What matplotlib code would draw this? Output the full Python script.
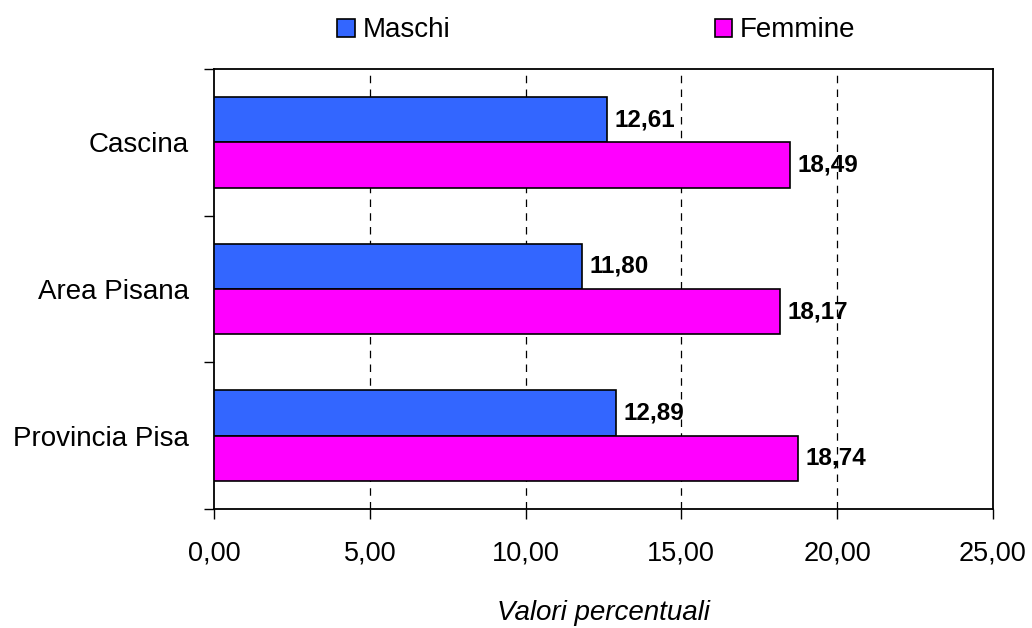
import numpy as np
import matplotlib.pyplot as plt
from matplotlib.ticker import FixedLocator

plt.rcParams['font.family'] = ['Liberation Sans', 'DejaVu Sans']

categories = ["Cascina", "Area Pisana", "Provincia Pisa"]
maschi = [12.61, 11.80, 12.89]
femmine = [18.49, 18.17, 18.74]
xticks = [0, 5, 10, 15, 20, 25]

BLUE = "#3366FF"
MAGENTA = "#FF00FF"
H = 0.31

def fmt(v):
    return f"{v:.2f}".replace(".", ",")

fig = plt.figure(figsize=(10.32, 6.28), dpi=100)
ax = fig.add_axes([0.2074, 0.1895, 0.7546, 0.7005])

ypos = np.arange(len(categories))[::-1]   # Cascina on top
b1 = ax.barh(ypos + H / 2, maschi, height=H, color=BLUE, edgecolor="black", linewidth=1.2, label="Maschi", zorder=3)
b2 = ax.barh(ypos - H / 2, femmine, height=H, color=MAGENTA, edgecolor="black", linewidth=1.2, label="Femmine", zorder=3)

for bars, vals in ((b1, maschi), (b2, femmine)):
    for bar, v in zip(bars, vals):
        ax.text(v + 0.25, bar.get_y() + bar.get_height() / 2, fmt(v),
                va="center", ha="left", fontsize=17.5, fontweight="bold", zorder=4)

ax.set_xlim(0, 25)
ax.set_ylim(-0.5, len(categories) - 0.5)
ax.set_xticks(xticks)
ax.set_xticklabels([fmt(v) for v in xticks], fontsize=19.5)
for v in xticks[1:-1]:
    ax.axvline(v, color="black", linestyle=(0, (6, 5)), linewidth=0.9, zorder=1)

# ticks at category boundaries, labels at category centres
ax.yaxis.set_major_locator(FixedLocator(np.arange(-0.5, len(categories), 1.0)))
ax.yaxis.set_minor_locator(FixedLocator(ypos))
ax.set_yticklabels([], minor=False)
ax.set_yticklabels(categories, minor=True, fontsize=20)
ax.tick_params(axis="y", which="minor", length=0, pad=18)
ax.tick_params(axis="y", which="major", length=7, width=1)
ax.tick_params(axis="x", length=7, width=1, pad=16)

for s in ax.spines.values():
    s.set_linewidth(1.3)

ax.set_xlabel("Valori percentuali", fontsize=20, style="italic", labelpad=24)

fig.legend(handles=[b1, b2], loc="upper center", bbox_to_anchor=(0.578, 1.012), ncol=2,
           frameon=False, fontsize=20, handlelength=0.62, handleheight=0.62,
           handletextpad=0.3, columnspacing=9.5)

fig.savefig("out.png", dpi=100, facecolor="white")
